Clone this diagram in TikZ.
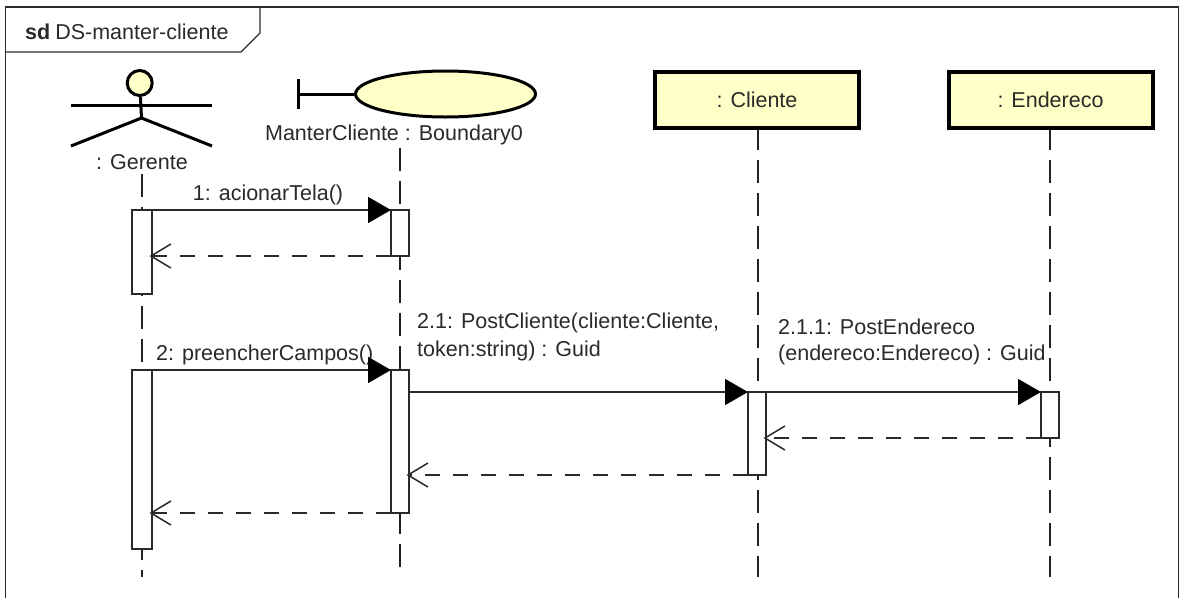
\documentclass[tikz,border=0pt]{standalone}
\usepackage{fontspec}
\setmainfont{Liberation Sans}
\usetikzlibrary{arrows.meta,shapes.geometric}
\definecolor{fillY}{HTML}{FFFFC8}
\definecolor{ink}{HTML}{2A2A2A}
\tikzset{
  x=1pt,y=-1pt,
  txt/.style={inner sep=0pt,text=ink,font=\fontsize{21.5}{24}\selectfont},
  frameline/.style={draw=ink,line width=1.4pt},
  lifeline/.style={draw=ink!80!black,line width=2pt,dash pattern=on 23pt off 10pt},
  activation/.style={draw=ink,fill=white,line width=1.5pt,rectangle,inner sep=0pt,outer sep=0pt,anchor=north west},
  objbox/.style={draw=black,fill=fillY,line width=4pt,rectangle,inner sep=0pt,minimum width=204pt,minimum height=56pt,text=ink,font=\fontsize{21.5}{24}\selectfont},
  call/.style={draw=ink,line width=1.7pt,-{Triangle[length=23pt,width=26pt,color=black]}},
  reply/.style={draw=ink,line width=2pt,dash pattern=on 15pt off 13pt,shorten >=-2.5pt,-{Straight Barb[length=20pt,width=24pt,line width=1.5pt]}},
  stick/.style={draw=black,line width=3pt},
  fig/.style={draw=black,fill=fillY,line width=3pt,inner sep=0pt},
}
\begin{document}
\begin{tikzpicture}
\useasboundingbox (0,0) rectangle (1180,598);
\fill[white] (0,0) rectangle (1180,598);
% frame
\draw[frameline] (5.5,598) -- (5.5,7) -- (1178.5,7) -- (1178.5,598);
\draw[frameline] (5.5,52) -- (241,52) -- (260,33) -- (260,7);
\node[txt,anchor=west] (title) at (25,32) {\textbf{sd}\kern5pt DS-manter-cliente};
% actor
\node[fig,ellipse,minimum width=25pt,minimum height=25pt] (head) at (139.7,83) {};
\coordinate (hip) at (141.5,118);
\coordinate (armL) at (71,105);
\coordinate (armR) at (212,105);
\coordinate (legL) at (71,146);
\coordinate (legR) at (212,146);
\draw[stick] (head) -- (hip);
\draw[stick] (armL) -- (armR);
\draw[stick] (legL) -- (hip) -- (legR);
\node[txt] (gerente) at (142,162) {: Gerente};
% boundary
\node[fig,ellipse,minimum width=180pt,minimum height=46pt] (bound) at (445.5,94) {};
\coordinate (barT) at (298.8,79);
\coordinate (barB) at (298.8,109);
\coordinate (barM) at (298.8,94);
\draw[stick] (barT) -- (barB);
\draw[stick] (barM) -- (bound);
\node[txt] (boundlbl) at (394,135) {ManterCliente : Boundary0};
% lifelines
\coordinate (gerTop) at (142,174);
\coordinate (gerEnd) at (142,577);
\coordinate (bouTop) at (400,148);
\coordinate (bouEnd) at (400,567);
\coordinate (cliTop) at (757.5,127);
\coordinate (cliEnd) at (757.5,577);
\coordinate (endTop) at (1049.5,127);
\coordinate (endEnd) at (1049.5,577);
\draw[lifeline] (gerTop) -- (gerEnd);
\draw[lifeline] (bouTop) -- (bouEnd);
\draw[lifeline] (cliTop) -- (cliEnd);
\draw[lifeline] (endTop) -- (endEnd);
% objects
\node[objbox] (cliente) at (757,99.5) {: Cliente};
\node[objbox] (endereco) at (1050.5,99.5) {: Endereco};
% activations
\node[activation,minimum width=20pt,minimum height=84pt] (g1) at (132,210) {};
\node[activation,minimum width=18pt,minimum height=46pt] (b1) at (391,210) {};
\node[activation,minimum width=20pt,minimum height=179pt] (g2) at (132,370) {};
\node[activation,minimum width=18pt,minimum height=143pt] (b2) at (391,370) {};
\node[activation,minimum width=18pt,minimum height=83pt] (c1) at (748,392) {};
\node[activation,minimum width=18pt,minimum height=46pt] (e1) at (1041,392) {};
% labels
\node[txt] (m1) at (268,195) {1: acionarTela()};
\node[txt,anchor=west] (m2) at (156,355) {2: preencherCampos()};
\node[txt,anchor=west] (m21a) at (417,323) {2.1: PostCliente(cliente:Cliente,};
\node[txt,anchor=west] (m21b) at (417,351) {token:string) : Guid};
\node[txt,anchor=west] (m211a) at (778,327) {2.1.1: PostEndereco};
\node[txt,anchor=west] (m211b) at (778,355) {(endereco:Endereco) : Guid};
% messages
\draw[call] (g1.north east) -- (b1.north west);
\draw[reply] (b1.south west) -- (g1.east |- b1.south);
\draw[call] (g2.north east) -- (b2.north west);
\draw[call] (b2.east |- c1.north) -- (c1.north west);
\draw[call] (c1.north east) -- (e1.north west);
\draw[reply] (e1.south west) -- (c1.east |- e1.south);
\draw[reply] (c1.south west) -- (b2.east |- c1.south);
\draw[reply] (b2.south west) -- (g2.east |- b2.south);
\end{tikzpicture}
\end{document}
